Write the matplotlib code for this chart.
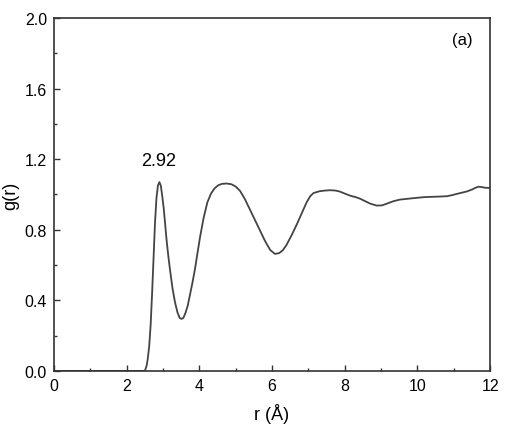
import matplotlib
matplotlib.use('Agg')
import matplotlib.pyplot as plt
from matplotlib.ticker import MultipleLocator

plt.rcParams['font.family'] = ['Liberation Sans', 'DejaVu Sans']

# g(r)
r = [0, 2.45, 2.50, 2.55, 2.58, 2.62, 2.66, 2.70, 2.74, 2.78, 2.82, 2.86, 2.90,
     2.94, 2.98, 3.02, 3.06, 3.09, 3.12, 3.155, 3.19, 3.26, 3.33, 3.40, 3.46, 3.51, 3.56,
     3.62, 3.68, 3.74, 3.81, 3.88, 3.95, 4.02, 4.12, 4.22, 4.32, 4.42, 4.52,
     4.62, 4.75, 4.88, 5.0, 5.12, 5.25, 5.39, 5.53, 5.67, 5.81, 5.95, 6.08,
     6.2, 6.3, 6.40, 6.54, 6.68, 6.82, 6.95, 7.05, 7.14, 7.3, 7.45, 7.6, 7.75,
     7.87, 8.0, 8.15, 8.3, 8.42, 8.55, 8.7, 8.88, 9.02, 9.16, 9.34, 9.52, 9.75,
     9.98, 10.2, 10.44, 10.6, 10.81, 10.95, 11.08, 11.22, 11.36, 11.5, 11.6,
     11.68, 11.76, 11.86, 12.0]
g = [0, 0, 0.0, 0.03, 0.068, 0.14, 0.26, 0.44, 0.64, 0.84, 0.98, 1.05, 1.07,
     1.05, 0.99, 0.92, 0.83, 0.76, 0.70, 0.635, 0.578, 0.47, 0.389, 0.33, 0.30, 0.295, 0.30,
     0.33, 0.37, 0.43, 0.50, 0.578, 0.67, 0.76, 0.87, 0.955, 1.005, 1.035, 1.052,
     1.06, 1.062, 1.058, 1.045, 1.02, 0.975, 0.915, 0.855, 0.795, 0.735, 0.685, 0.663,
     0.668, 0.685, 0.715, 0.77, 0.83, 0.895, 0.955, 0.99, 1.008, 1.018, 1.022, 1.024, 1.022,
     1.016, 1.005, 0.993, 0.985, 0.976, 0.963, 0.948, 0.937, 0.938, 0.948, 0.962, 0.971, 0.976,
     0.981, 0.985, 0.987, 0.988, 0.99, 0.996, 1.003, 1.01, 1.017, 1.028, 1.038,
     1.044, 1.042, 1.038, 1.037]

peak_r = 2.92
panel = '(a)'

fig = plt.figure(figsize=(5.09, 4.31), dpi=100)
ax = fig.add_axes([0.106, 0.137, 0.857, 0.819])

ax.plot(r, g, color='#444444', lw=1.3)

ax.set_xlim(0, 12)
ax.set_ylim(0, 2.0)
ax.xaxis.set_major_locator(MultipleLocator(2))
ax.xaxis.set_minor_locator(MultipleLocator(1))
ax.yaxis.set_major_locator(MultipleLocator(0.4))
ax.yaxis.set_minor_locator(MultipleLocator(0.2))
ax.yaxis.set_major_formatter(plt.FormatStrFormatter('%.1f'))
ax.tick_params(which='major', direction='in', length=4, width=1, labelsize=11.5,
               color='#333333', pad=5)
ax.tick_params(which='minor', direction='in', length=2, width=1, color='#333333')
for s in ax.spines.values():
    s.set_linewidth(1.2)
    s.set_color('#333333')

ax.set_xlabel('r (Å)', fontsize=13, labelpad=7)
ax.set_ylabel('g(r)', fontsize=13, labelpad=4)

ax.text(2.87, 1.19, f'{peak_r:.2f}', fontsize=13, ha='center', va='center')
ax.text(11.23, 1.88, panel, fontsize=12, ha='center', va='center')

fig.savefig('out.png', dpi=100)
